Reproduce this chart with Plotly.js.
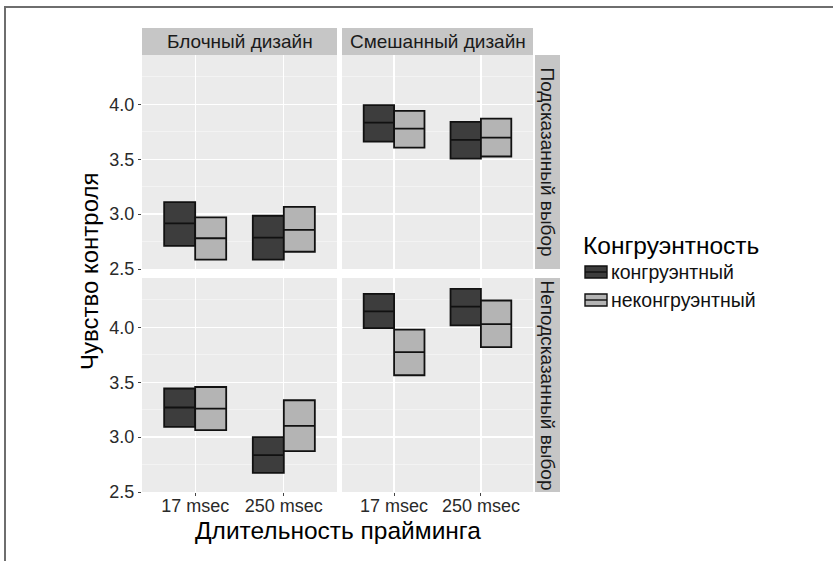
<!DOCTYPE html>
<html>
<head>
<meta charset="utf-8">
<script src="https://cdn.plot.ly/plotly-3.0.1.min.js"></script>
<style>
  html, body { margin: 0; padding: 0; background: #fff; }
  #wrap { position: relative; width: 833px; height: 561px; }
  #chart { position: absolute; left: 0; top: 0; width: 833px; height: 561px; }
  .bl { position: absolute; background: #6e6e6e; }
</style>
</head>
<body>
<div id="wrap">
  <div id="chart"></div>
  <div class="bl" style="left:4px; top:6px; width:2px; height:555px;"></div>
  <div class="bl" style="left:4px; top:6px; width:829px; height:2px;"></div>
</div>
<script>
// ---- data ----
const duration = ['17 msec', '250 msec'];
const colFacets = ['Блочный дизайн', 'Смешанный дизайн'];
const rowFacets = ['Подсказанный выбор', 'Неподсказанный выбор'];
const groupNames = ['конгруэнтный', 'неконгруэнтный'];
// panel order: [Блочный/Подсказанный, Смешанный/Подсказанный, Блочный/Неподсказанный, Смешанный/Неподсказанный]
const congLo  = [[2.71, 2.585], [3.66, 3.506], [3.094, 2.675], [3.994, 4.018]];
const congMid = [[2.915, 2.785], [3.833, 3.676], [3.27, 2.836], [4.145, 4.19]];
const congHi  = [[3.11, 2.985], [3.994, 3.84], [3.443, 3.0], [4.306, 4.35]];
const incLo   = [[2.585, 2.657], [3.606, 3.525], [3.064, 2.873], [3.564, 3.82]];
const incMid  = [[2.78, 2.857], [3.78, 3.697], [3.26, 3.103], [3.775, 4.03]];
const incHi   = [[2.97, 3.067], [3.94, 3.87], [3.457, 3.336], [3.979, 4.245]];

const darkFill = '#3d3d3d';
const lightFill = '#b4b4b4';

const W = 833, H = 561;
const px = v => v / W;
const py = v => 1 - v / H;

const traces = [];
const axSuffix = ['', '2', '3', '4'];
for (let p = 0; p < 4; p++) {
  const sets = [
    {lo: congLo[p], mid: congMid[p], hi: congHi[p], fill: darkFill, name: groupNames[0], og: 'c'},
    {lo: incLo[p], mid: incMid[p], hi: incHi[p], fill: lightFill, name: groupNames[1], og: 'i'}
  ];
  sets.forEach(s => {
    traces.push({
      type: 'box',
      x: duration,
      q1: s.lo, median: s.mid, q3: s.hi,
      lowerfence: s.lo, upperfence: s.hi,
      name: s.name,
      offsetgroup: s.og,
      fillcolor: s.fill,
      line: {color: '#111', width: 1.8},
      whiskerwidth: 0,
      showlegend: false,
      hoverinfo: 'skip',
      xaxis: 'x' + axSuffix[p],
      yaxis: 'y' + axSuffix[p]
    });
  });
}

const xDomL = [px(142), px(337)];
const xDomR = [px(342), px(533)];
const yDomT = [py(269), py(55)];
const yDomB = [py(492), py(278)];

const FAM = 'Liberation Sans, Arial, sans-serif';
const tickFont = {family: FAM, size: 18, color: '#2a2a2a'};

function xAx(domain, anchor, showLabels) {
  return {
    domain: domain, anchor: anchor, type: 'category',
    range: [-0.6, 1.6], showgrid: true, gridcolor: '#ffffff', gridwidth: 1.3,
    zeroline: false, showline: false,
    ticks: showLabels ? 'outside' : '', ticklen: 3, tickcolor: '#444', tickwidth: 1,
    ticklabelstandoff: -6,
    showticklabels: showLabels, tickfont: tickFont, fixedrange: true
  };
}
function yAx(domain, anchor, showLabels) {
  return {
    domain: domain, anchor: anchor,
    range: [2.5, 4.45], dtick: 0.5, tick0: 2.5, tickformat: '.1f',
    showgrid: true, gridcolor: '#ffffff', gridwidth: 1.3,
    minor: {dtick: 0.25, tick0: 2.25, showgrid: true, gridcolor: '#f7f7f7', gridwidth: 0.7, ticks: ''},
    zeroline: false, showline: false,
    ticks: showLabels ? 'outside' : '', ticklen: 3, tickcolor: '#444', tickwidth: 1,
    showticklabels: showLabels, tickfont: tickFont, fixedrange: true
  };
}

const stripFill = '#c6c6c6';
const shapes = [
  // top strips
  {type: 'rect', xref: 'paper', yref: 'paper', x0: xDomL[0], x1: xDomL[1], y0: py(55), y1: py(28), fillcolor: stripFill, line: {width: 0}, layer: 'below'},
  {type: 'rect', xref: 'paper', yref: 'paper', x0: xDomR[0], x1: xDomR[1], y0: py(55), y1: py(28), fillcolor: stripFill, line: {width: 0}, layer: 'below'},
  // right strips
  {type: 'rect', xref: 'paper', yref: 'paper', x0: px(535), x1: px(560), y0: yDomT[0], y1: yDomT[1], fillcolor: stripFill, line: {width: 0}, layer: 'below'},
  {type: 'rect', xref: 'paper', yref: 'paper', x0: px(535), x1: px(560), y0: yDomB[0], y1: yDomB[1], fillcolor: stripFill, line: {width: 0}, layer: 'below'},
  // legend keys
  {type: 'rect', xref: 'paper', yref: 'paper', x0: px(585), x1: px(607), y0: py(278), y1: py(266), fillcolor: darkFill, line: {color: '#111', width: 1.4}},
  {type: 'line', xref: 'paper', yref: 'paper', x0: px(585), x1: px(607), y0: py(272), y1: py(272), line: {color: '#111', width: 1.4}},
  {type: 'rect', xref: 'paper', yref: 'paper', x0: px(585), x1: px(607), y0: py(306), y1: py(294), fillcolor: lightFill, line: {color: '#111', width: 1.4}},
  {type: 'line', xref: 'paper', yref: 'paper', x0: px(585), x1: px(607), y0: py(300), y1: py(300), line: {color: '#111', width: 1.4}}
];

const stripFont = {family: FAM, size: 19, color: '#1a1a1a'};
const annotations = [
  {text: colFacets[0], x: (xDomL[0] + xDomL[1]) / 2, y: py(41.5), xref: 'paper', yref: 'paper', showarrow: false, font: stripFont, xanchor: 'center', yanchor: 'middle'},
  {text: colFacets[1], x: (xDomR[0] + xDomR[1]) / 2, y: py(41.5), xref: 'paper', yref: 'paper', showarrow: false, font: stripFont, xanchor: 'center', yanchor: 'middle'},
  {text: rowFacets[0], x: px(547.5), y: (yDomT[0] + yDomT[1]) / 2, xref: 'paper', yref: 'paper', showarrow: false, font: stripFont, textangle: 90, xanchor: 'center', yanchor: 'middle'},
  {text: rowFacets[1], x: px(547.5), y: (yDomB[0] + yDomB[1]) / 2, xref: 'paper', yref: 'paper', showarrow: false, font: stripFont, textangle: 90, xanchor: 'center', yanchor: 'middle'},
  {text: 'Чувство контроля', x: px(89), y: py(271), xref: 'paper', yref: 'paper', showarrow: false, textangle: -90,
   font: {family: FAM, size: 24, color: '#000'}, xanchor: 'center', yanchor: 'middle'},
  {text: 'Длительность прайминга', x: px(337.5), y: py(530), xref: 'paper', yref: 'paper', showarrow: false,
   font: {family: FAM, size: 24.5, color: '#000'}, xanchor: 'center', yanchor: 'middle'},
  {text: 'Конгруэнтность', x: px(581), y: py(245), xref: 'paper', yref: 'paper', showarrow: false,
   font: {family: FAM, size: 24.5, color: '#000'}, xanchor: 'left', yanchor: 'middle'},
  {text: groupNames[0], x: px(609), y: py(272), xref: 'paper', yref: 'paper', showarrow: false,
   font: {family: FAM, size: 19.5, color: '#111'}, xanchor: 'left', yanchor: 'middle'},
  {text: groupNames[1], x: px(609), y: py(300), xref: 'paper', yref: 'paper', showarrow: false,
   font: {family: FAM, size: 19.5, color: '#111'}, xanchor: 'left', yanchor: 'middle'}
];

const layout = {
  width: W, height: H,
  margin: {l: 0, r: 0, t: 0, b: 0},
  paper_bgcolor: '#ffffff',
  plot_bgcolor: '#ebebeb',
  boxmode: 'group', boxgap: 0.3, boxgroupgap: 0,
  showlegend: false,
  xaxis: xAx(xDomL, 'y', false),
  xaxis2: xAx(xDomR, 'y2', false),
  xaxis3: xAx(xDomL, 'y3', true),
  xaxis4: xAx(xDomR, 'y4', true),
  yaxis: yAx(yDomT, 'x', true),
  yaxis2: yAx(yDomT, 'x2', false),
  yaxis3: yAx(yDomB, 'x3', true),
  yaxis4: yAx(yDomB, 'x4', false),
  shapes: shapes,
  annotations: annotations,
  font: {family: FAM}
};

Plotly.newPlot('chart', traces, layout, {staticPlot: true, displayModeBar: false});
</script>
</body>
</html>
